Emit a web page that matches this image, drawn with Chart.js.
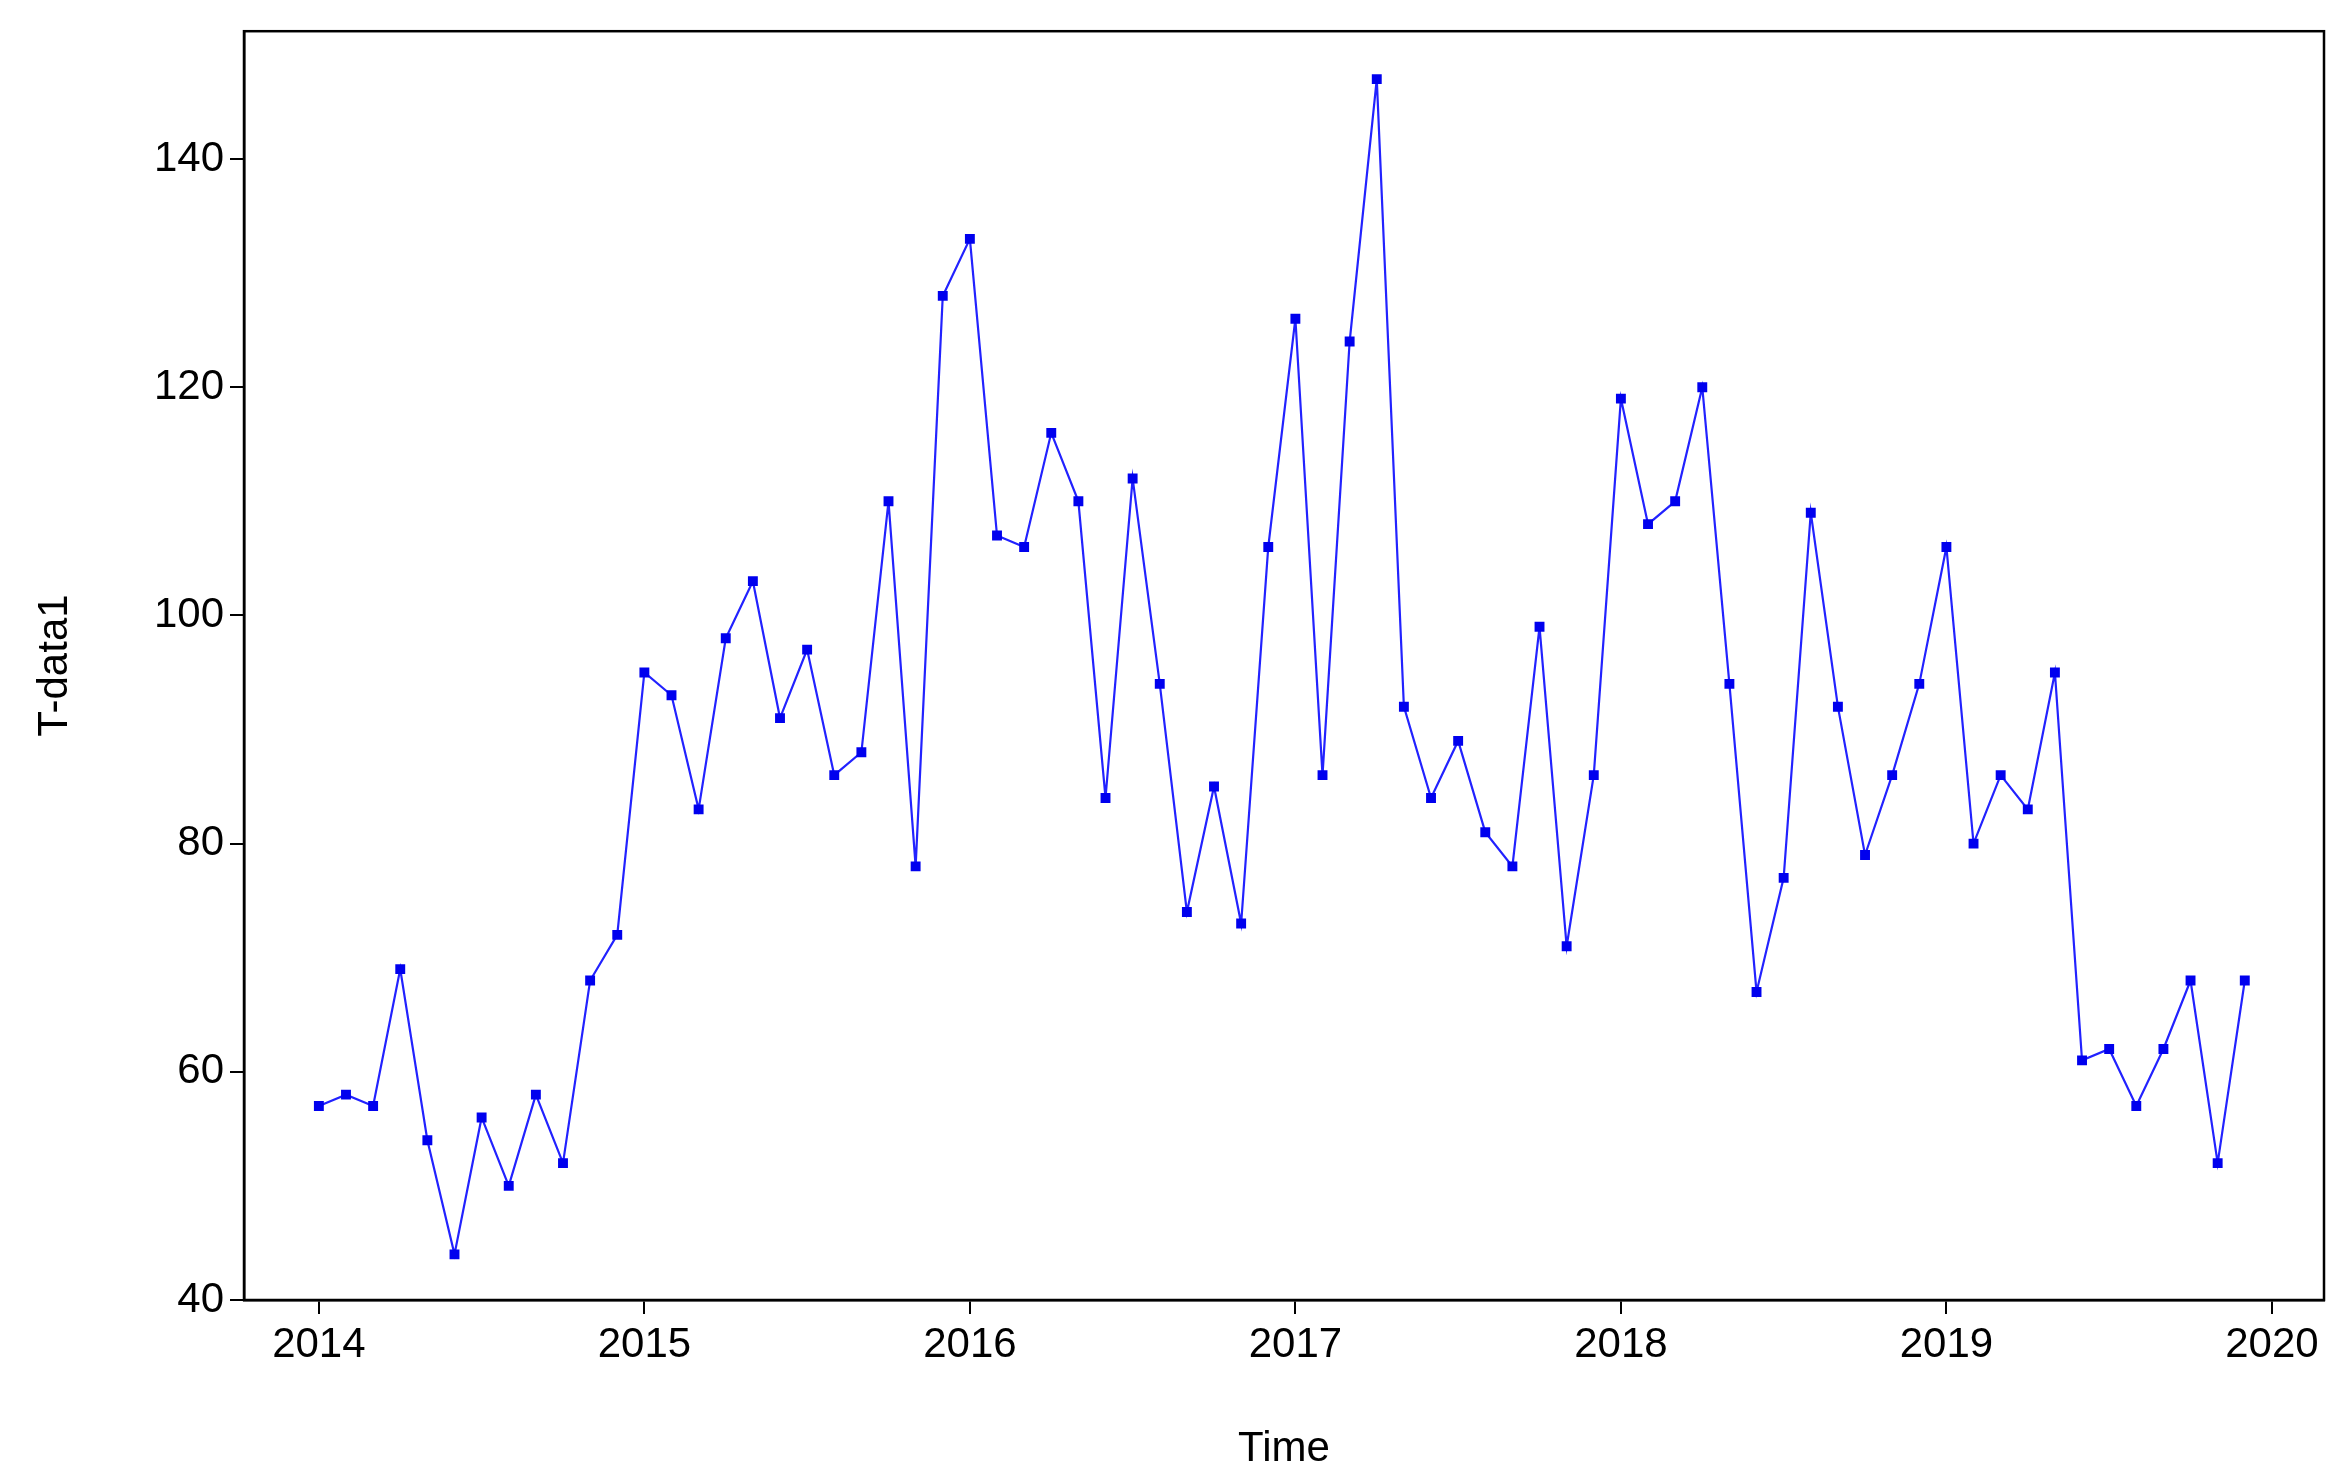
<!DOCTYPE html>
<html><head><meta charset="utf-8">
<script src="https://cdn.jsdelivr.net/npm/chart.js@4/dist/chart.umd.min.js"></script>
<style>html,body{margin:0;padding:0;background:#fff}#w{width:2348px;height:1479px}</style>
</head><body><div id="w"><canvas id="c"></canvas></div>
<script>
const startYear = 2014;
const values = [
 57,58,57,69,54,44,56,50,58,52,68,72,
 95,93,83,98,103,91,97,86,88,110,78,128,
 133,107,106,116,110,84,112,94,74,85,73,106,
 126,86,124,147,92,84,89,81,78,99,71,86,
 119,108,110,120,94,67,77,109,92,79,86,94,
 106,80,86,83,95,61,62,57,62,68,52,68
];
const xTicks = [2014,2015,2016,2017,2018,2019,2020];
const yTicks = [40,60,80,100,120,140];
const pts = values.map((v,i)=>({x:startYear+i/12,y:v}));
const frame = {id:'frame',afterDraw(ch){const a=ch.chartArea,c=ch.ctx;c.save();c.strokeStyle='#000';c.lineWidth=2.5;c.strokeRect(a.left,a.top,a.right-a.left,a.bottom-a.top);c.restore();}};
const font={family:'Liberation Sans, Arial, sans-serif',size:42};
new Chart(document.getElementById('c'),{
 type:'line',
 data:{datasets:[{data:pts,borderColor:'#2222ff',borderWidth:2.2,backgroundColor:'#0000ee',pointStyle:'rect',pointRadius:7,pointBorderWidth:0,tension:0}]},
 options:{responsive:true,maintainAspectRatio:false,animation:false,
  layout:{padding:{top:7,right:24,left:26,bottom:0}},
  plugins:{legend:{display:false},tooltip:{enabled:false}},
  scales:{
   x:{type:'linear',min:2013.77,max:2020.16,
     afterBuildTicks(s){s.ticks=xTicks.map(v=>({value:v}));},
     afterFit(s){s.height=179;},
     ticks:{font,color:'#000',padding:6,callback:v=>String(v),maxRotation:0},
     grid:{drawOnChartArea:false,tickLength:14,color:'#000',lineWidth:2},
     border:{color:'#000',width:2.5},
     title:{display:true,text:'Time',font,color:'#000',padding:{top:4}}},
   y:{min:40,max:151.2,
     afterBuildTicks(s){s.ticks=yTicks.map(v=>({value:v}));},
     afterFit(s){s.width=218;},
     ticks:{font,color:'#000',padding:6},
     grid:{drawOnChartArea:false,tickLength:14,color:'#000',lineWidth:2},
     border:{color:'#000',width:2.5},
     title:{display:true,text:'T-data1',font,color:'#000',padding:{bottom:10}}}
  }},
 plugins:[frame]
});
</script></body></html>
